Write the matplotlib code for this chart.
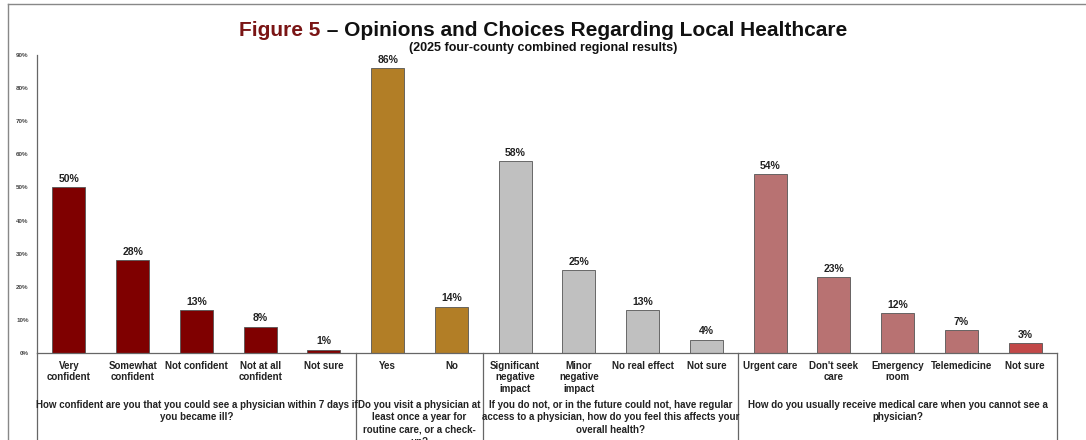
import matplotlib.pyplot as plt
from matplotlib.lines import Line2D

plt.rcParams['font.family'] = ['Liberation Sans', 'DejaVu Sans']

categories = ["Very\nconfident", "Somewhat\nconfident", "Not confident", "Not at all\nconfident", "Not sure",
              "Yes", "No",
              "Significant\nnegative\nimpact", "Minor\nnegative\nimpact", "No real effect", "Not sure",
              "Urgent care", "Don't seek\ncare", "Emergency\nroom", "Telemedicine", "Not sure"]
values = [50, 28, 13, 8, 1,
          86, 14,
          58, 25, 13, 4,
          54, 23, 12, 7, 3]
colors = ["#7f0000"] * 5 + ["#b27e26"] * 2 + ["#c0c0c0"] * 4 + ["#b87272"] * 4 + ["#c24848"]
questions = [
    "How confident are you that you could see a physician within 7 days if\nyou became ill?",
    "Do you visit a physician at\nleast once a year for\nroutine care, or a check-\nup?",
    "If you do not, or in the future could not, have regular\naccess to a physician, how do you feel this affects your\noverall health?",
    "How do you usually receive medical care when you cannot see a\nphysician?",
]
group_edges = [-0.5, 4.5, 6.5, 10.5, 15.5]
yticks = list(range(0, 100, 10))

fig = plt.figure(figsize=(10.86, 4.4), dpi=100)
ax = fig.add_axes([37 / 1086, 87 / 440, 1020 / 1086, 298 / 440])

x = list(range(len(values)))
ax.bar(x, values, width=0.52, color=colors, edgecolor="#555555", linewidth=0.6)
for xi, v in zip(x, values):
    ax.text(xi, v + 1.0, f"{v}%", ha="center", va="bottom", fontsize=7.5, fontweight="bold", color="#222222")

ax.set_xlim(-0.5, 15.5)
ax.set_ylim(0, 90)
ax.set_yticks(yticks)
ax.set_yticklabels([f"{t}%" for t in yticks], fontsize=4.5, fontweight="bold", color="#444444")
ax.tick_params(axis="y", length=0, pad=6)
ax.set_xticks([])
for s in ["top", "right"]:
    ax.spines[s].set_visible(False)
for s in ["left", "bottom"]:
    ax.spines[s].set_color("#666666")
    ax.spines[s].set_linewidth(0.9)

tr = ax.get_xaxis_transform()
for xi, c in zip(x, categories):
    ax.text(xi, -0.026, c, transform=tr, ha="center", va="top", fontsize=7,
            fontweight="bold", color="#222222", linespacing=1.2)

bottom = -(440 - 353) / 298
for e in group_edges:
    ax.add_line(Line2D([e, e], [0, bottom], transform=tr, color="#666666", lw=0.9, clip_on=False))

for i, q in enumerate(questions):
    cx = (group_edges[i] + group_edges[i + 1]) / 2
    ax.text(cx, -0.158, q, transform=tr, ha="center", va="top", fontsize=7,
            fontweight="bold", color="#222222", linespacing=1.3)

# title
ty = 1 - 31 / 440
t1 = fig.text(0.5, ty, "Figure 5", ha="right", va="center", fontsize=15, fontweight="bold", color="#7a1515")
title = fig.text(0.5, ty, " \u2013 Opinions and Choices Regarding Local Healthcare", ha="left", va="center",
                 fontsize=15, fontweight="bold", color="#111111")
fig.canvas.draw()
r = fig.canvas.get_renderer()
w1 = t1.get_window_extent(r).width
w2 = title.get_window_extent(r).width
shift = (w1 - w2) / 2 / fig.bbox.width
t1.set_x(0.5 + shift)
title.set_x(0.5 + shift)
fig.text(0.5, 1 - 48 / 440, "(2025 four-county combined regional results)", ha="center", va="center",
         fontsize=9, fontweight="bold", color="#111111")

# outer frame
fig.add_artist(Line2D([8 / 1086, 1.0], [1 - 4 / 440, 1 - 4 / 440], transform=fig.transFigure, color="#888888", lw=1))
fig.add_artist(Line2D([8 / 1086, 8 / 1086], [0, 1 - 4 / 440], transform=fig.transFigure, color="#888888", lw=1))

fig.savefig("out.png", dpi=100)
